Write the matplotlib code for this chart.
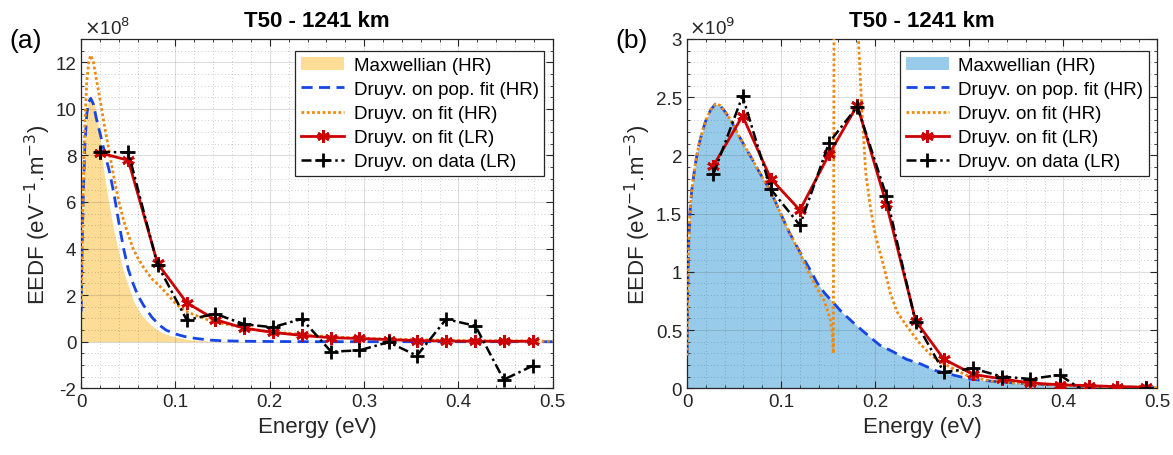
import numpy as np
import matplotlib
matplotlib.use('Agg')
import matplotlib.pyplot as plt
from matplotlib.ticker import MultipleLocator

plt.rcParams['font.family'] = ['Liberation Sans', 'DejaVu Sans']

### Data
# (a) values in 1e8 eV^-1.m^-3
e_hr_a = [0, 0.001, 0.002, 0.004, 0.006, 0.008, 0.010, 0.013, 0.016, 0.020,
          0.025, 0.030, 0.035, 0.040, 0.045, 0.050, 0.055, 0.060, 0.066, 0.075,
          0.083, 0.090, 0.100, 0.110, 0.120, 0.136, 0.150, 0.175, 0.200, 0.250,
          0.300, 0.400, 0.500]
maxw_a = [0, 5.0, 6.8, 8.8, 9.9, 10.4, 10.57, 10.4, 9.9, 8.7,
          7.0, 5.8, 4.7, 3.8, 3.0, 2.4, 1.8, 1.4, 1.05, 0.68,
          0.45, 0.32, 0.2, 0.12, 0.07, 0.03, 0.015, 0.005, 0, 0,
          0, 0, 0]
pop_a = [1.3, 4.0, 6.0, 8.5, 9.8, 10.3, 10.45, 10.2, 9.6, 8.95,
         8.1, 7.3, 6.3, 5.1, 4.0, 3.1, 2.5, 2.0, 1.57, 1.05,
         0.71, 0.5, 0.33, 0.22, 0.15, 0.07, 0.04, 0.02, 0.01, 0.0,
         0.0, 0.0, 0.0]
fit_hr_a = [1.5, 4.0, 6.5, 9.5, 11.2, 12.0, 12.3, 12.0, 11.3, 10.4,
            9.2, 8.1, 7.0, 6.0, 5.2, 4.6, 4.0, 3.6, 3.2, 2.7,
            2.4, 2.1, 1.65, 1.33, 1.15, 0.92, 0.78, 0.58, 0.43, 0.25,
            0.14, 0.05, 0.02]
e_lr_a = [0.020, 0.050, 0.081, 0.112, 0.142, 0.173, 0.203, 0.234,
          0.265, 0.295, 0.326, 0.356, 0.387, 0.418, 0.448, 0.479]
fit_lr_a = [8.11, 7.79, 3.36, 1.67, 0.95, 0.58, 0.40, 0.27,
            0.17, 0.14, 0.09, 0.05, 0.03, 0.02, 0.02, 0.02]
data_lr_a = [8.15, 8.13, 3.3, 0.93, 1.2, 0.75, 0.62, 0.98,
             -0.43, -0.37, -0.02, -0.6, 0.97, 0.68, -1.63, -1.03]

# (b) values in 1e9 eV^-1.m^-3
e_hr_b = [0, 0.0005, 0.001, 0.002, 0.003, 0.005, 0.0085, 0.012, 0.016, 0.020,
          0.025, 0.030, 0.035, 0.040, 0.046, 0.055, 0.067, 0.078, 0.089, 0.099,
          0.108, 0.120, 0.130, 0.138, 0.146, 0.155, 0.165, 0.180, 0.193, 0.205,
          0.220, 0.233, 0.248, 0.265, 0.285, 0.300, 0.325, 0.350, 0.400, 0.450,
          0.500]
pop_b = [0.28, 0.7, 1.0, 1.3, 1.5, 1.7, 1.91, 2.07, 2.2, 2.3,
         2.39, 2.44, 2.43, 2.38, 2.31, 2.17, 2.0, 1.84, 1.69, 1.51,
         1.35, 1.17, 1.03, 0.91, 0.82, 0.74, 0.65, 0.54, 0.45, 0.37,
         0.31, 0.25, 0.21, 0.15, 0.11, 0.08, 0.06, 0.045, 0.025, 0.012,
         0.005]
maxw_b = pop_b  # fill edge coincides with the pop. fit curve
e_fit_b = [0, 0.0005, 0.001, 0.002, 0.003, 0.005, 0.0085, 0.012, 0.016, 0.020,
           0.025, 0.030, 0.035, 0.040, 0.046, 0.055, 0.067, 0.078, 0.089, 0.099,
           0.108, 0.120, 0.130, 0.138, 0.146, 0.152, 0.1545, 0.1555, 0.1565, 0.165,
           0.175, 0.181, 0.1856, 0.190, 0.195, 0.200, 0.210, 0.216, 0.223, 0.233,
           0.248, 0.260, 0.271, 0.285, 0.300, 0.325, 0.350, 0.400, 0.450, 0.500]
fit_hr_b = [0.28, 0.7, 1.0, 1.3, 1.5, 1.7, 1.91, 2.07, 2.2, 2.3,
            2.39, 2.44, 2.43, 2.38, 2.31, 2.17, 2.0, 1.84, 1.69, 1.51,
            1.35, 1.16, 0.98, 0.86, 0.75, 0.6, 0.48, 0.3, 4.0, 9.0,
            9.0, 3.2, 2.43, 1.85, 1.55, 1.32, 1.02, 0.82, 0.66, 0.54,
            0.38, 0.28, 0.22, 0.16, 0.1, 0.06, 0.045, 0.025, 0.012, 0.005]
e_lr_b = [0.028, 0.059, 0.089, 0.120, 0.151, 0.181, 0.212, 0.243,
          0.273, 0.304, 0.335, 0.365, 0.396, 0.427, 0.457, 0.488]
fit_lr_b = [1.91, 2.34, 1.80, 1.53, 2.01, 2.43, 1.58, 0.58,
            0.25, 0.12, 0.08, 0.046, 0.03, 0.023, 0.014, 0.01]
data_lr_b = [1.84, 2.51, 1.71, 1.40, 2.11, 2.42, 1.65, 0.57,
             0.14, 0.17, 0.10, 0.08, 0.115, -0.05, -0.08, 0.0]

labels = ['Maxwellian (HR)', 'Druyv. on pop. fit (HR)', 'Druyv. on fit (HR)',
          'Druyv. on fit (LR)', 'Druyv. on data (LR)']

### Plot
axcol = (0.15, 0.15, 0.15)
fig = plt.figure(figsize=(11.73, 4.56), dpi=100)

def panel(ax, e_hr, maxw, e_pop, pop, e_fit, fit_hr, e_lr, fit_lr, data_lr,
          fillcol, ylim, ymaj, ymin, expo, tag):
  ax.fill_between(e_hr, 0, maxw, color=fillcol, lw=0, label=labels[0], zorder=1)
  ax.plot(e_pop, pop, color='#1646e6', lw=2, dashes=(4, 2.3), label=labels[1], zorder=2)
  ax.plot(e_fit, fit_hr, color='#f08a10', lw=2, dashes=(1, 0.9), label=labels[2], zorder=3)
  ax.plot(e_lr, fit_lr, color='#cc0000', lw=2, marker=(6, 2, 0), ms=9, mew=2,
          label=labels[3], zorder=4)
  ax.plot(e_lr, data_lr, color='black', lw=1.8, dashes=(4, 1.5, 1, 1.5), marker='+',
          ms=10, mew=2, label=labels[4], zorder=5)
  ax.set_xlim(0, 0.5)
  ax.set_ylim(*ylim)
  ax.xaxis.set_major_locator(MultipleLocator(0.1))
  ax.xaxis.set_minor_locator(MultipleLocator(0.02))
  ax.yaxis.set_major_locator(MultipleLocator(ymaj))
  ax.yaxis.set_minor_locator(MultipleLocator(ymin))
  ax.xaxis.set_major_formatter(plt.FuncFormatter(lambda v, p: '%g' % round(v, 2)))
  ax.yaxis.set_major_formatter(plt.FuncFormatter(lambda v, p: '%g' % round(v, 2)))
  ax.grid(which='major', color=axcol, alpha=0.15, lw=0.8)
  ax.grid(which='minor', color=axcol, alpha=0.3, lw=0.6, linestyle=(0, (1, 3)))
  ax.tick_params(which='both', direction='in', top=True, right=True, colors=axcol,
                 labelsize=13.5, labelcolor=axcol)
  ax.tick_params(which='major', length=5)
  ax.tick_params(which='minor', length=2.5)
  for s in ax.spines.values():
    s.set_color(axcol)
    s.set_linewidth(0.9)
  ax.set_xlabel('Energy (eV)', fontsize=16, color=axcol, labelpad=4)
  ax.set_ylabel('EEDF (eV$^{-1}$.m$^{-3}$)', fontsize=16, color=axcol, labelpad=2)
  ax.text(0.5, 1.052, 'T50 - 1241 km', transform=ax.transAxes, ha='center',
          va='center', fontsize=16, fontweight='bold')
  ax.text(0.005, 1.035, r'$\times$10$^{%d}$' % expo, transform=ax.transAxes,
          ha='left', va='center', fontsize=13.5, color=axcol)
  ax.text(-0.117, 0.998, tag, transform=ax.transAxes, ha='center', va='center',
          fontsize=19)
  leg = ax.legend(loc='upper right', bbox_to_anchor=(0.982, 0.965), fontsize=13.5,
                  fancybox=False, framealpha=1, edgecolor=axcol, borderaxespad=0,
                  handlelength=2.3, handletextpad=0.5, labelspacing=0.37,
                  borderpad=0.3)
  leg.get_frame().set_linewidth(0.9)

ax_a = fig.add_axes([0.0692, 0.1463, 0.402, 0.766])
panel(ax_a, e_hr_a, maxw_a, e_hr_a, pop_a, e_hr_a, fit_hr_a, e_lr_a, fit_lr_a,
      data_lr_a, '#fddc96', (-2, 13), 2, 0.5, 8, '(a)')

ax_b = fig.add_axes([0.5857, 0.1463, 0.401, 0.766])
panel(ax_b, e_hr_b, maxw_b, e_hr_b, pop_b, e_fit_b, fit_hr_b, e_lr_b, fit_lr_b,
      data_lr_b, '#98cbea', (0, 3), 0.5, 0.1, 9, '(b)')

plt.savefig('out.png', dpi=100)
